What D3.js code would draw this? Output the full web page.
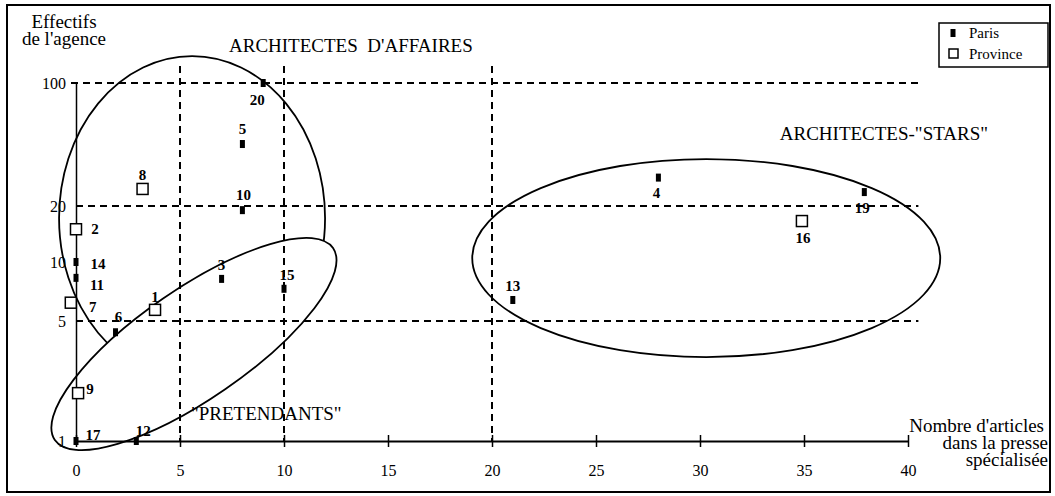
<!DOCTYPE html>
<html lang="fr">
<head>
  <meta charset="UTF-8">
  <title>Effectifs et articles</title>
  <style>
    body { margin: 0; background: #fff; }
    svg text { font-family: "Liberation Serif", "Times New Roman", serif; fill: #000; }
  </style>
</head>
<body>
  <svg id="chart" width="1055" height="496"></svg>
  <script src="https://d3js.org/d3.v7.min.js"></script>
  <script>
    // numéro de l'agence, lieu, nombre d'articles, effectifs
    var ids = [20, 5, 10, 8, 2, 14, 11, 7, 1, 6, 3, 15, 9, 17, 12, 13, 4, 19, 16];
    var lieu = ["Paris", "Paris", "Paris", "Province", "Province", "Paris", "Paris", "Province", "Province", "Paris",
      "Paris", "Paris", "Province", "Paris", "Paris", "Paris", "Paris", "Paris", "Province"];
    var articles = [9, 8, 8, 3.2, 0, 0, 0, -0.25, 3.8, 1.9, 7, 10, 0.1, 0, 2.9, 21, 28, 37.9, 34.9];
    var effectifs = [100, 45, 19, 25, 15, 10, 8.3, 6.2, 5.7, 4.3, 8.2, 7.3, 1.9, 1, 1, 6.4, 29, 24, 16.6];

    var xTicks = [0, 5, 10, 15, 20, 25, 30, 35, 40];
    var yTicks = [1, 5, 10, 20, 100];
    var xSeuils = [5, 10, 20];
    var ySeuils = [5, 20, 100];

    var svg = d3.select("#chart");

    // hand drawn log axis, a bit uneven between the ticks
    var x = d3.scaleLinear().domain([0, 40]).range([76, 908]);
    var y = d3.scaleLog().domain([1, 5, 10, 20, 100]).range([441, 321, 262, 206, 83]);

    // frame
    svg.append("rect")
      .attr("x", 7).attr("y", 5)
      .attr("width", 1043).attr("height", 487)
      .attr("fill", "none").attr("stroke", "#000").attr("stroke-width", 2);

    // dashed thresholds
    svg.append("g").selectAll("line")
      .data(ySeuils)
      .enter().append("line")
      .attr("x1", function (d) { return d == 100 ? x(0) - 5 : x(0); })
      .attr("x2", x(40.5))
      .attr("y1", function (d) { return y(d); })
      .attr("y2", function (d) { return y(d); })
      .attr("stroke", "#000").attr("stroke-width", 2).attr("stroke-dasharray", "7,5");

    svg.append("g").selectAll("line")
      .data(xSeuils)
      .enter().append("line")
      .attr("x1", function (d) { return x(d); })
      .attr("x2", function (d) { return x(d); })
      .attr("y1", 66)
      .attr("y2", y(1))
      .attr("stroke", "#000").attr("stroke-width", 2).attr("stroke-dasharray", "7,5");

    // axes
    var xAxis = svg.append("g")
      .attr("transform", "translate(0," + y(1) + ")")
      .call(d3.axisBottom(x).tickValues(xTicks).tickSize(6).tickSizeOuter(0).tickPadding(18));
    xAxis.selectAll(".tick line").attr("y1", -6).attr("stroke-width", 1.5);
    xAxis.select(".domain").attr("stroke-width", 2);
    xAxis.selectAll("text").style("font-size", "16px");

    var yAxis = svg.append("g")
      .attr("transform", "translate(" + x(0) + ",0)")
      .call(d3.axisLeft(y).tickValues(yTicks).tickFormat(d3.format("d")).tickSize(0).tickPadding(10));
    yAxis.select(".domain").attr("stroke-width", 1.5);
    yAxis.selectAll("text").style("font-size", "16px");

    // groupings
    var defs = svg.append("defs");
    var pret = { cx: x(5.67), cy: y(3.67), rx: 169, ry: 55, rot: -34.6 };
    var aff = { cx: x(5.58), cy: y(17.2), rx: 133, ry: 162 };
    var stars = { cx: x(30.3), cy: y(10.5), rx: 234, ry: 99 };

    var mask = defs.append("mask").attr("id", "horsPret")
      .attr("maskUnits", "userSpaceOnUse")
      .attr("x", 0).attr("y", 0).attr("width", 1055).attr("height", 496);
    mask.append("rect").attr("width", 1055).attr("height", 496).attr("fill", "#fff");
    mask.append("ellipse")
      .attr("rx", pret.rx).attr("ry", pret.ry)
      .attr("transform", "translate(" + pret.cx + "," + pret.cy + ")rotate(" + pret.rot + ")")
      .attr("fill", "#000");

    svg.append("ellipse")
      .attr("cx", aff.cx).attr("cy", aff.cy).attr("rx", aff.rx).attr("ry", aff.ry)
      .attr("mask", "url(#horsPret)")
      .attr("fill", "none").attr("stroke", "#000").attr("stroke-width", 1.8);

    svg.append("ellipse")
      .attr("rx", pret.rx).attr("ry", pret.ry)
      .attr("transform", "translate(" + pret.cx + "," + pret.cy + ")rotate(" + pret.rot + ")")
      .attr("fill", "none").attr("stroke", "#000").attr("stroke-width", 1.8);

    svg.append("ellipse")
      .attr("cx", stars.cx).attr("cy", stars.cy).attr("rx", stars.rx).attr("ry", stars.ry)
      .attr("fill", "none").attr("stroke", "#000").attr("stroke-width", 1.8);

    // points
    var points = ids.map(function (id, i) {
      return { id: id, lieu: lieu[i], articles: articles[i], effectifs: effectifs[i] };
    });

    var pts = svg.append("g");
    pts.selectAll("rect.paris")
      .data(points.filter(function (d) { return d.lieu == "Paris"; }))
      .enter().append("rect")
      .attr("class", "paris")
      .attr("x", function (d) { return x(d.articles) - 2.5; })
      .attr("y", function (d) { return y(d.effectifs) - 4; })
      .attr("width", 5).attr("height", 8)
      .attr("fill", "#000");

    pts.selectAll("rect.province")
      .data(points.filter(function (d) { return d.lieu == "Province"; }))
      .enter().append("rect")
      .attr("class", "province")
      .attr("x", function (d) { return x(d.articles) - 5.5; })
      .attr("y", function (d) { return y(d.effectifs) - 5.5; })
      .attr("width", 11).attr("height", 11)
      .attr("fill", "#fff").attr("stroke", "#000").attr("stroke-width", 1.5);

    // where each number sits around its point
    var labelAt = {
      20: [-6, 17], 5: [0, -15], 10: [1, -15], 8: [0, -14], 2: [19, 0], 14: [22, 2], 11: [21, 7],
      7: [22, 4], 1: [0, -13], 6: [3, -15], 3: [0, -14], 15: [3, -14], 9: [12, -4], 17: [17, -6],
      12: [7, -10], 13: [0, -14], 4: [-2, 15], 19: [-2, 16], 16: [1, 17]
    };

    pts.selectAll("text")
      .data(points)
      .enter().append("text")
      .attr("x", function (d) { return x(d.articles) + labelAt[d.id][0]; })
      .attr("y", function (d) { return y(d.effectifs) + labelAt[d.id][1]; })
      .attr("text-anchor", "middle")
      .attr("dominant-baseline", "central")
      .style("font-size", "15px")
      .style("font-weight", "bold")
      .text(function (d) { return d.id; });

    // titles
    var titre = svg.append("text")
      .attr("text-anchor", "middle")
      .style("font-size", "19px");
    titre.append("tspan").attr("x", 64).attr("y", 28).text("Effectifs");
    titre.append("tspan").attr("x", 64).attr("y", 45).text("de l'agence");

    var xTitre = svg.append("text")
      .attr("text-anchor", "end")
      .style("font-size", "19px");
    xTitre.append("tspan").attr("x", 1044).attr("y", 432).text("Nombre d'articles");
    xTitre.append("tspan").attr("x", 1048).attr("y", 449).text("dans la presse");
    xTitre.append("tspan").attr("x", 1048).attr("y", 466).text("spécialisée");

    svg.append("text")
      .attr("x", 229).attr("y", 52)
      .style("font-size", "19px")
      .style("white-space", "pre")
      .text("ARCHITECTES  D'AFFAIRES");

    svg.append("text")
      .attr("x", 988).attr("y", 140)
      .attr("text-anchor", "end")
      .style("font-size", "19px")
      .text("ARCHITECTES-\"STARS\"");

    svg.append("text")
      .attr("x", 191).attr("y", 420)
      .style("font-size", "19px")
      .text("\"PRETENDANTS\"");

    // legend
    var leg = svg.append("g");
    leg.append("rect")
      .attr("x", 939).attr("y", 23).attr("width", 109).attr("height", 44)
      .attr("fill", "#fff").attr("stroke", "#000").attr("stroke-width", 1.5);
    leg.append("rect")
      .attr("x", 950.5).attr("y", 29).attr("width", 5).attr("height", 8)
      .attr("fill", "#000");
    leg.append("rect")
      .attr("x", 949).attr("y", 49).attr("width", 9).attr("height", 9)
      .attr("fill", "#fff").attr("stroke", "#000").attr("stroke-width", 1.5);
    leg.append("text").attr("x", 969).attr("y", 38).style("font-size", "15px").text("Paris");
    leg.append("text").attr("x", 969).attr("y", 59).style("font-size", "15px").text("Province");
  </script>
</body>
</html>
